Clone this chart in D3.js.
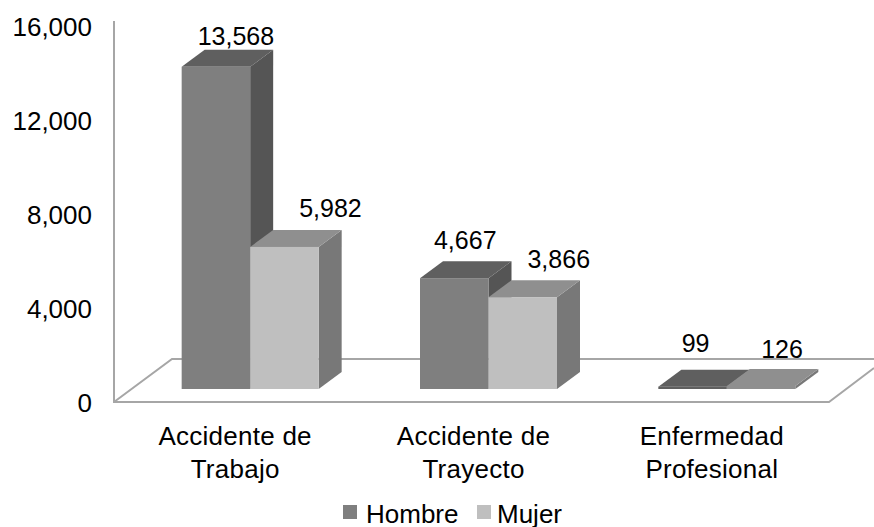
<!DOCTYPE html>
<html>
<head>
<meta charset="utf-8">
<script src="https://cdn.jsdelivr.net/npm/d3@7"></script>
<style>
  html, body { margin: 0; background: #fff; }
  text { font-family: "Liberation Sans", Arial, sans-serif; fill: #000; }
</style>
</head>
<body>
<div id="main-chart"></div>
<script>
const categories = [
  ["Accidente de", "Trabajo"],
  ["Accidente de", "Trayecto"],
  ["Enfermedad", "Profesional"],
];
const seriesNames = ["Hombre", "Mujer"];
const hombre = [13568, 4667, 99];
const mujer = [5982, 3866, 126];
const yTicks = [0, 4000, 8000, 12000, 16000];

const width = 874;
const height = 527;
const fontSize = 26;
const valueFontSize = 25;
const depthX = 23;
const depthY = -17;
const lineColor = "#a6a6a6";
const colors = [
  { front: "#7f7f7f", side: "#555555", top: "#5e5e5e", swatch: "#7f7f7f" },
  { front: "#bfbfbf", side: "#787878", top: "#8f8f8f", swatch: "#bfbfbf" },
];
// hand placed offsets of the value labels, from the back edge of each bar top
const labelNudge = [
  [[20, -5], [46, -13]],
  [[11, -12], [36, -12]],
  [[3, -18], [21, -11]],
];

const x = d3
  .scaleBand()
  .domain(categories.map((d, i) => i))
  .range([131, 846]);
const bar = d3
  .scaleBand()
  .domain(seriesNames)
  .range([x.bandwidth() / 2 - 68.5, x.bandwidth() / 2 + 68.5]);
const y = d3.scaleLinear().domain([0, 16000]).range([389, 9]);
const yLabels = d3.scaleLinear().domain([0, 16000]).range([403, 27]);

const svg = d3
  .select("#main-chart")
  .append("svg")
  .attr("width", width)
  .attr("height", height)
  .style("display", "block");

svg
  .append("defs")
  .append("filter")
  .attr("id", "soft")
  .append("feGaussianBlur")
  .attr("stdDeviation", 0.45);

const marks = svg.append("g").attr("filter", "url(#soft)");

// wall and floor
const floorLine = d3.line();
const frontY = y(0) + 13;
marks
  .selectAll(".floor")
  .data([
    [[114, y(16000) + 12], [114, frontY], [829, frontY], [874, frontY - 34]],
    [[114, frontY], [172, frontY + depthY * 2.53], [874, frontY + depthY * 2.53]],
  ])
  .join("path")
  .attr("class", "floor")
  .attr("d", floorLine)
  .attr("fill", "none")
  .attr("stroke", lineColor)
  .attr("stroke-width", 2);

const points = categories.flatMap((c, i) =>
  seriesNames.map((s, j) => ({
    cat: i,
    ser: j,
    value: (j === 0 ? hombre : mujer)[i],
    x0: x(i) + bar(s),
    x1: x(i) + bar(s) + bar.bandwidth(),
  }))
);

const bars = marks
  .selectAll(".bar")
  .data(points)
  .join("g")
  .attr("class", "bar");

bars
  .append("path")
  .attr("fill", (d) => colors[d.ser].side)
  .attr("d", (d) =>
    floorLine([
      [d.x1, y(0)],
      [d.x1 + depthX, y(0) + depthY],
      [d.x1 + depthX, y(d.value) + depthY],
      [d.x1, y(d.value)],
    ]) + "Z"
  );

bars
  .append("path")
  .attr("fill", (d) => colors[d.ser].top)
  .attr("d", (d) =>
    floorLine([
      [d.x0, y(d.value)],
      [d.x0 + depthX, y(d.value) + depthY],
      [d.x1 + depthX, y(d.value) + depthY],
      [d.x1, y(d.value)],
    ]) + "Z"
  );

// the very short bars show no front face in the original, only their top
bars
  .append("rect")
  .attr("x", (d) => d.x0)
  .attr("y", (d) => y(d.value))
  .attr("width", (d) => d.x1 - d.x0)
  .attr("height", (d) => y(0) - y(d.value))
  .attr("fill", (d) => (d.value < 500 ? colors[d.ser].top : colors[d.ser].front));

svg
  .selectAll(".value-label")
  .data(points)
  .join("text")
  .attr("class", "value-label")
  .attr("x", (d) => (d.x0 + d.x1) / 2 + labelNudge[d.cat][d.ser][0])
  .attr("y", (d) => y(d.value) + depthY + labelNudge[d.cat][d.ser][1])
  .attr("text-anchor", "middle")
  .attr("font-size", valueFontSize)
  .text((d) => d3.format(",")(d.value));

const yAxis = svg
  .append("g")
  .attr("transform", "translate(92,0)")
  .call(
    d3
      .axisLeft(yLabels)
      .tickValues(yTicks)
      .tickSize(0)
      .tickPadding(0)
      .tickFormat(d3.format(","))
  );
yAxis.select(".domain").remove();
yAxis
  .selectAll("text")
  .attr("font-size", fontSize)
  .style("font-family", '"Liberation Sans", Arial, sans-serif');

const catLabels = svg
  .selectAll(".cat-label")
  .data(categories)
  .join("text")
  .attr("class", "cat-label")
  .attr("text-anchor", "middle")
  .attr("font-size", fontSize)
  .attr("letter-spacing", 0.25);
catLabels
  .selectAll("tspan")
  .data((d, i) => d.map((line, k) => ({ line, k, i })))
  .join("tspan")
  .attr("x", (d) => x(d.i) + x.bandwidth() / 2 - 15)
  .attr("y", (d) => 445 + d.k * 33)
  .text((d) => d.line);

const legendX = [343, 477];
const legend = svg
  .selectAll(".legend")
  .data(seriesNames)
  .join("g")
  .attr("class", "legend")
  .attr("transform", (d, i) => `translate(${legendX[i]},505)`);
legend
  .append("rect")
  .attr("width", 14)
  .attr("height", 14)
  .attr("fill", (d, i) => colors[i].swatch);
legend
  .append("text")
  .attr("x", (d, i) => (i === 0 ? 23 : 20))
  .attr("y", 17.5)
  .attr("font-size", fontSize)
  .text((d) => d);
</script>
</body>
</html>
